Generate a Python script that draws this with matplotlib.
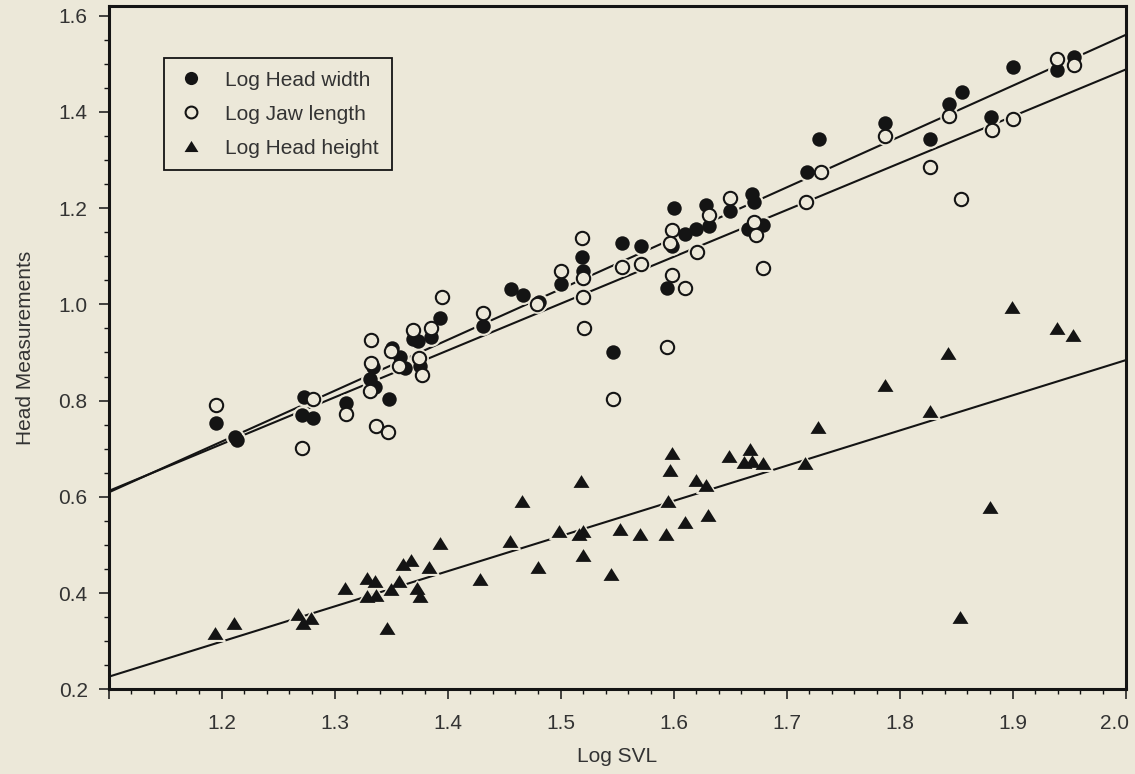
import matplotlib
matplotlib.use("Agg")
import matplotlib.pyplot as plt
import matplotlib.transforms as mtransforms
from matplotlib.lines import Line2D
from matplotlib.ticker import FixedLocator, FixedFormatter, MultipleLocator

plt.rcParams['font.family'] = ['Liberation Sans', 'DejaVu Sans']

BG = '#ECE8D9'
INK = '#141414'

# ---- data ----
head_width_x = [1.195, 1.212, 1.214, 1.271, 1.273, 1.281, 1.310, 1.348,
                1.334, 1.331, 1.336, 1.351, 1.358, 1.362, 1.369, 1.374, 1.376, 1.385, 1.393,
                1.431, 1.456, 1.467, 1.481, 1.500, 1.519, 1.520, 1.546, 1.554, 1.571,
                1.600, 1.599, 1.594, 1.610, 1.620, 1.629, 1.631, 1.650,
                1.669, 1.671, 1.666, 1.679, 1.718, 1.729,
                1.787, 1.827, 1.844, 1.855, 1.881, 1.900, 1.939, 1.954]
head_width_y = [0.754, 0.724, 0.718, 0.770, 0.808, 0.763, 0.796, 0.803,
                0.869, 0.845, 0.829, 0.909, 0.891, 0.867, 0.928, 0.923, 0.872, 0.932, 0.971,
                0.956, 1.032, 1.020, 1.004, 1.043, 1.098, 1.070, 0.901, 1.127, 1.122,
                1.201, 1.122, 1.035, 1.147, 1.156, 1.207, 1.162, 1.195,
                1.230, 1.212, 1.156, 1.165, 1.276, 1.344,
                1.377, 1.344, 1.416, 1.441, 1.389, 1.494, 1.488, 1.515]

jaw_length_x = [1.195, 1.271, 1.281, 1.310, 1.337, 1.347,
                1.332, 1.331, 1.332, 1.350, 1.357, 1.369, 1.375, 1.377, 1.385, 1.395,
                1.431, 1.479, 1.500, 1.519, 1.520, 1.520, 1.521, 1.546, 1.554, 1.571,
                1.599, 1.597, 1.599, 1.594, 1.610, 1.621, 1.631, 1.650,
                1.671, 1.673, 1.679, 1.717, 1.730,
                1.787, 1.827, 1.844, 1.854, 1.882, 1.900, 1.939, 1.954]
jaw_length_y = [0.790, 0.701, 0.803, 0.772, 0.748, 0.734,
                0.926, 0.819, 0.878, 0.902, 0.872, 0.947, 0.888, 0.853, 0.950, 1.016,
                0.983, 1.000, 1.070, 1.138, 1.054, 1.015, 0.951, 0.804, 1.077, 1.084,
                1.155, 1.127, 1.061, 0.911, 1.034, 1.108, 1.186, 1.221,
                1.172, 1.145, 1.075, 1.213, 1.275,
                1.349, 1.285, 1.391, 1.219, 1.363, 1.386, 1.510, 1.498]

head_height_x = [1.194, 1.211, 1.268, 1.272, 1.279, 1.309, 1.329, 1.336, 1.329, 1.337,
                 1.346, 1.350, 1.357, 1.361, 1.368, 1.384, 1.373, 1.376, 1.393,
                 1.429, 1.455, 1.466, 1.480, 1.499, 1.516, 1.520, 1.518, 1.520,
                 1.545, 1.553, 1.570, 1.593, 1.595, 1.597, 1.599, 1.610, 1.620,
                 1.629, 1.630, 1.649, 1.662, 1.668, 1.669, 1.679, 1.716, 1.728,
                 1.787, 1.827, 1.843, 1.853, 1.880, 1.899, 1.939, 1.953]
head_height_y = [0.316, 0.337, 0.357, 0.337, 0.348, 0.410, 0.431, 0.426, 0.393, 0.396,
                 0.327, 0.408, 0.426, 0.461, 0.469, 0.455, 0.410, 0.394, 0.505,
                 0.429, 0.508, 0.592, 0.454, 0.528, 0.522, 0.528, 0.632, 0.479,
                 0.440, 0.533, 0.523, 0.523, 0.592, 0.655, 0.691, 0.547, 0.635,
                 0.625, 0.562, 0.685, 0.673, 0.700, 0.675, 0.671, 0.671, 0.746,
                 0.833, 0.779, 0.899, 0.351, 0.578, 0.995, 0.951, 0.937]

# regression lines: value at Log SVL 1.1 and at 2.0
fit_x = [1.1, 2.0]
head_width_fit = [0.609, 1.560]
jaw_length_fit = [0.612, 1.488]
head_height_fit = [0.226, 0.884]

series_labels = ['Log Head width', 'Log Jaw length', 'Log Head height']
x_ticks = [1.1, 1.2, 1.3, 1.4, 1.5, 1.6, 1.7, 1.8, 1.9, 2.0]
x_tick_labels = ['', '1.2', '1.3', '1.4', '1.5', '1.6', '1.7', '1.8', '1.9', '2.0']
y_ticks = [0.2, 0.4, 0.6, 0.8, 1.0, 1.2, 1.4, 1.6]
y_tick_labels = ['0.2', '0.4', '0.6', '0.8', '1.0', '1.2', '1.4', '1.6']

# ---- figure ----
W, H = 1135, 774
fig = plt.figure(figsize=(W / 100, H / 100), dpi=100, facecolor=BG)
ax = fig.add_axes([108.5 / W, 1 - 689.3 / H, (1125.7 - 108.5) / W, (689.3 - 6) / H])
ax.set_facecolor(BG)
ax.set_xlim(1.1, 2.0)
ax.set_ylim(0.2, 1.62)

for fit in (head_width_fit, jaw_length_fit, head_height_fit):
    ax.plot(fit_x, fit, color=INK, lw=1.5, zorder=2, solid_capstyle='butt')

tri = [(0, 0.8), (-1, -0.8), (1, -0.8), (0, 0.8)]

# halos (background-coloured) so lines break around the symbols
ax.plot(head_height_x, head_height_y, ls='none', marker=tri, ms=14, color=BG, zorder=3)
ax.plot(jaw_length_x, jaw_length_y, ls='none', marker='o', ms=12.5, color=BG, zorder=3)
ax.plot(head_width_x, head_width_y, ls='none', marker='o', ms=12.5, color=BG, zorder=3)

ax.plot(head_height_x, head_height_y, ls='none', marker=tri, ms=11.5,
        color=INK, markeredgewidth=0, zorder=4)
ax.plot(head_width_x, head_width_y, ls='none', marker='o', ms=10.4,
        color=INK, markeredgewidth=0, zorder=5)
ax.plot(jaw_length_x, jaw_length_y, ls='none', marker='o', ms=9.6,
        markerfacecolor=BG, markeredgecolor=INK, markeredgewidth=1.5, zorder=6)

# axes styling
for s in ax.spines.values():
    s.set_linewidth(2.2)
    s.set_color(INK)

ax.xaxis.set_major_locator(FixedLocator(x_ticks))
ax.xaxis.set_major_formatter(FixedFormatter(x_tick_labels))
ax.xaxis.set_minor_locator(MultipleLocator(0.02))
ax.yaxis.set_major_locator(FixedLocator(y_ticks))
ax.yaxis.set_major_formatter(FixedFormatter(y_tick_labels))
ax.yaxis.set_minor_locator(MultipleLocator(0.05))

ax.tick_params(which='major', direction='out', length=7, width=1.1, color=INK,
               labelcolor='#333333', labelsize=15)
ax.tick_params(which='minor', direction='out', length=3.5, width=1.0, color=INK)
ax.tick_params(axis='x', which='major', pad=11)
ax.tick_params(axis='y', which='major', pad=8)

# the last x label sits a little left of its tick, inside the picture
fig.canvas.draw()
last_label = ax.get_xticklabels()[-1]
last_label.set_transform(last_label.get_transform() +
                         mtransforms.ScaledTranslation(-11 / 100, 0, fig.dpi_scale_trans))

ax.set_xlabel('Log SVL', fontsize=15, color='#333333')
ax.xaxis.set_label_coords(0.5, -0.085)
ax.set_ylabel('Head Measurements', fontsize=15, color='#333333')
ax.yaxis.set_label_coords(-0.072, 0.5)

handles = [
    Line2D([], [], ls='none', marker='o', ms=9.5, color=INK, markeredgewidth=0),
    Line2D([], [], ls='none', marker='o', ms=8.5, markerfacecolor=BG,
           markeredgecolor=INK, markeredgewidth=1.5),
    Line2D([], [], ls='none', marker=tri, ms=10, color=INK, markeredgewidth=0),
]
leg = ax.legend(handles, series_labels, loc='upper left',
                bbox_to_anchor=(0.0546, 0.9235), borderaxespad=0,
                frameon=True, fancybox=False, edgecolor=INK, facecolor=BG,
                framealpha=1, fontsize=15, handlelength=1.4, handletextpad=0.95,
                labelspacing=0.72, borderpad=0.6)
leg.get_frame().set_linewidth(1.3)
for t in leg.get_texts():
    t.set_color('#333333')

fig.savefig('out.png', dpi=100, facecolor=BG)
